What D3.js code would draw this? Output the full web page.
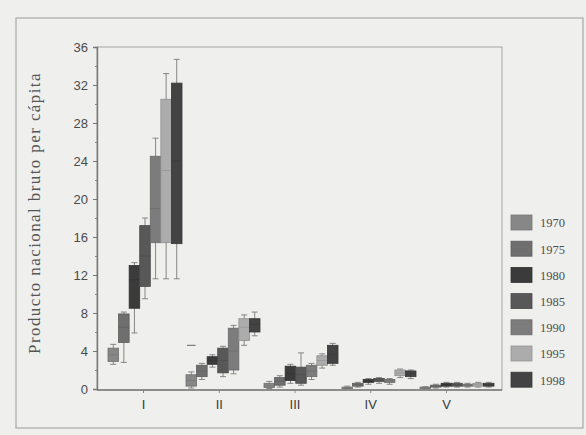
<!DOCTYPE html>
<html>
<head>
<meta charset="utf-8">
<script src="https://cdn.jsdelivr.net/npm/d3@7"></script>
<style>
  body { margin: 0; background: #efefed; }
  svg { display: block; }
</style>
</head>
<body>
<div id="chart"></div>
<script>
// regions (x axis) and years (series)
const groups = ['I', 'II', 'III', 'IV', 'V'];
const years = ['1970', '1975', '1980', '1985', '1990', '1995', '1998'];

// one array per year: per region [low whisker, q1, median, q3, high whisker]
const y1970 = [[2.6, 2.9, 3.6, 4.3, 4.7], [0.1, 0.3, 0.9, 1.5, 1.8], [0.05, 0.15, 0.35, 0.6, 0.8], [0.05, 0.1, 0.15, 0.2, 0.3], [0.02, 0.05, 0.1, 0.2, 0.25]];
const y1975 = [[2.8, 4.9, 6.5, 7.9, 8.1], [1.0, 1.3, 1.9, 2.5, 2.7], [0.2, 0.4, 0.8, 1.2, 1.4], [0.2, 0.3, 0.45, 0.6, 0.7], [0.1, 0.2, 0.3, 0.4, 0.5]];
const y1980 = [[5.9, 8.5, 11.5, 13.0, 13.3], [2.3, 2.6, 3.0, 3.4, 3.6], [0.6, 0.9, 1.6, 2.4, 2.6], [0.5, 0.7, 0.85, 1.0, 1.1], [0.2, 0.3, 0.45, 0.6, 0.7]];
const y1985 = [[9.5, 10.8, 14.0, 17.2, 18.0], [1.3, 1.7, 3.0, 4.3, 4.5], [0.4, 0.6, 1.5, 2.3, 3.8], [0.6, 0.8, 0.95, 1.1, 1.2], [0.2, 0.3, 0.45, 0.6, 0.7]];
const y1990 = [[11.6, 15.4, 19.0, 24.5, 26.4], [1.6, 2.0, 4.0, 6.4, 6.7], [1.0, 1.3, 1.9, 2.5, 2.7], [0.5, 0.7, 0.85, 1.0, 1.1], [0.2, 0.3, 0.4, 0.5, 0.6]];
const y1995 = [[11.6, 15.4, 23.0, 30.5, 33.2], [4.6, 5.1, 6.5, 7.4, 7.8], [2.2, 2.5, 3.0, 3.5, 3.7], [1.2, 1.4, 1.7, 2.0, 2.1], [0.2, 0.3, 0.45, 0.6, 0.7]];
const y1998 = [[11.6, 15.3, 24.0, 32.2, 34.7], [5.6, 6.0, 6.8, 7.4, 8.1], [2.5, 2.7, 3.6, 4.6, 4.8], [1.1, 1.3, 1.6, 1.9, 2.0], [0.2, 0.3, 0.45, 0.6, 0.7]];

// outlier marks: [region, year, value]
const outliers = [['II', '1970', 4.6]];

const yTicks = [0, 4, 8, 12, 16, 20, 24, 28, 32, 36];
const colors = ['#878787', '#6f6f6f', '#3b3b3b', '#585858', '#7c7c7c', '#acacac', '#434343'];

const stats = [y1970, y1975, y1980, y1985, y1990, y1995, y1998];

const width = 586, height = 435;
const svg = d3.select('#chart').append('svg')
  .attr('width', width)
  .attr('height', height)
  .style('font-family', '"Liberation Serif", "DejaVu Serif", serif');

// outer frame of the figure
svg.append('rect')
  .attr('x', 16).attr('y', 18).attr('width', 567).attr('height', 410)
  .attr('fill', 'none').attr('stroke', '#a8a8a8').attr('stroke-width', 1.2);

const plot = { left: 97, right: 502, top: 47, bottom: 390 };

const y = d3.scaleLinear().domain([0, 36]).range([389, 47]);
const xg = d3.scalePoint().domain(groups).range([145, 457]);
const xLab = d3.scalePoint().domain(groups).range([143, 446]);
const xi = d3.scaleBand().domain(years).range([-37, 37]);
const color = d3.scaleOrdinal().domain(years).range(colors);

// plot frame
svg.append('rect')
  .attr('x', plot.left).attr('y', plot.top)
  .attr('width', plot.right - plot.left).attr('height', plot.bottom - plot.top)
  .attr('fill', 'none').attr('stroke', '#a5a5a5').attr('stroke-width', 1);

// y axis
const yAxis = svg.append('g')
  .attr('transform', `translate(${plot.left},0)`)
  .call(d3.axisLeft(y).tickValues(yTicks).tickSize(4).tickPadding(5));
yAxis.select('.domain').attr('stroke', '#777').attr('stroke-width', 1.4);
yAxis.selectAll('.tick line').attr('stroke', '#777');
yAxis.selectAll('.tick text').attr('fill', '#4a4a4a').style('font-size', '13px');

// minor ticks
svg.append('g')
  .attr('transform', `translate(${plot.left},0)`)
  .call(d3.axisLeft(y).tickValues(d3.range(2, 36, 4)).tickSize(2).tickFormat(''))
  .call(g => g.select('.domain').remove())
  .selectAll('line').attr('stroke', '#888');

// x axis
const xAxis = svg.append('g')
  .attr('transform', `translate(0,${plot.bottom})`)
  .call(d3.axisBottom(xLab).tickSize(3).tickPadding(7));
xAxis.select('.domain').attr('stroke', '#777').attr('stroke-width', 1.4)
  .attr('d', `M${plot.left},0H${plot.right}`);
xAxis.selectAll('.tick line').attr('stroke', '#888');
xAxis.selectAll('.tick text').attr('fill', '#3a3a3a').style('font-size', '13px');

// y axis title
svg.append('text')
  .attr('transform', `translate(40,213) rotate(-90)`)
  .attr('text-anchor', 'middle')
  .attr('fill', '#555')
  .style('font-size', '17px')
  .style('letter-spacing', '1.4px')
  .text('Producto nacional bruto per cápita');

// boxes
const boxes = [];
years.forEach((yr, yi) => {
  groups.forEach((g, gi) => {
    const s = stats[yi][gi];
    boxes.push({ year: yr, group: g, lo: s[0], q1: s[1], med: s[2], q3: s[3], hi: s[4] });
  });
});

const bw = xi.bandwidth();
const box = svg.append('g').selectAll('g').data(boxes).join('g')
  .attr('transform', d => `translate(${xg(d.group) + xi(d.year)},0)`);

// whiskers
box.append('line')
  .attr('x1', bw / 2).attr('x2', bw / 2)
  .attr('y1', d => y(d.hi)).attr('y2', d => y(d.lo))
  .attr('stroke', '#7a7a7a').attr('stroke-width', 0.9);
box.append('line')
  .attr('x1', bw / 2 - 3).attr('x2', bw / 2 + 3)
  .attr('y1', d => y(d.hi)).attr('y2', d => y(d.hi))
  .attr('stroke', '#7a7a7a').attr('stroke-width', 0.9);
box.append('line')
  .attr('x1', bw / 2 - 3).attr('x2', bw / 2 + 3)
  .attr('y1', d => y(d.lo)).attr('y2', d => y(d.lo))
  .attr('stroke', '#7a7a7a').attr('stroke-width', 0.9);

box.append('rect')
  .attr('x', 0).attr('width', bw)
  .attr('y', d => y(d.q3))
  .attr('height', d => Math.max(1.5, y(d.q1) - y(d.q3)))
  .attr('fill', d => color(d.year))
  .attr('stroke', d => d3.color(color(d.year)).darker(0.5))
  .attr('stroke-width', 0.8);

// median line, kept faint as in the scan
box.append('line')
  .attr('x1', 0).attr('x2', bw)
  .attr('y1', d => y(d.med)).attr('y2', d => y(d.med))
  .attr('stroke', d => d3.color(color(d.year)).darker(0.35))
  .attr('stroke-width', 0.8);

// outliers
svg.append('g').selectAll('line').data(outliers).join('line')
  .attr('x1', d => xg(d[0]) + xi(d[1]) + 1)
  .attr('x2', d => xg(d[0]) + xi(d[1]) + bw - 1)
  .attr('y1', d => y(d[2])).attr('y2', d => y(d[2]))
  .attr('stroke', '#666').attr('stroke-width', 1);

// legend
const legend = svg.append('g').attr('transform', 'translate(511,215)');
const li = legend.selectAll('g').data(years).join('g')
  .attr('transform', (d, i) => `translate(0,${i * 26.2})`);
li.append('rect')
  .attr('width', 21).attr('height', 15)
  .attr('fill', d => color(d))
  .attr('stroke', d => d3.color(color(d)).darker(0.4))
  .attr('stroke-width', 0.8);
li.append('text')
  .attr('x', 29).attr('y', 8)
  .attr('dy', '0.35em')
  .attr('fill', '#505050')
  .style('font-size', '12.5px')
  .text(d => d);
</script>
</body>
</html>
